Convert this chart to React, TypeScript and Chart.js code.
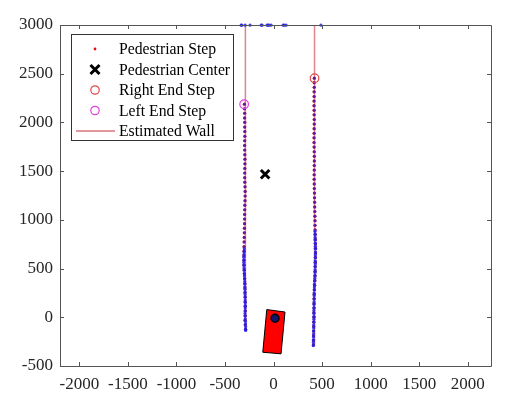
import React, { useEffect, useRef } from "react";
import { Chart, registerables } from "chart.js";

Chart.register(...registerables);

const xTicks = [-2000, -1500, -1000, -500, 0, 500, 1000, 1500, 2000];
const yTicks = [-500, 0, 500, 1000, 1500, 2000, 2500, 3000];

// left foot-step line (red + blue markers)
const leftStepY = [2187, 2140, 2094, 2046, 2001, 1952, 1906, 1858, 1812, 1764, 1717, 1669, 1623, 1575, 1528, 1481, 1433, 1387, 1339, 1292, 1245, 1197, 1151, 1103, 1056, 1009, 961, 915, 867, 820, 773, 725, 679, 631, 584, 537, 489, 443, 395, 348, 301, 253, 207, 159, 112, 65, 17, -30, -77, -124];
const leftStepX = [-300, -299, -298, -298, -297, -297, -296, -296, -297, -298, -297, -296, -295, -295, -296, -297, -297, -296, -294, -293, -293, -294, -296, -297, -298, -298, -299, -300, -301, -302, -303, -304, -304, -305, -305, -304, -302, -300, -298, -296, -295, -294, -293, -293, -292, -291, -292, -294, -292, -289];
// denser blue markers on the lower left part
const leftBlueY = [700, 672, 645, 617, 590, 562, 535, 507, 480, 452, 425, 397, 370, 342, 315, 287, 260, 232, 205, 177, 150, 122, 95, 67, 40, 12, -15, -43, -70, -98, -125, -135];
const leftBlueX = [-302, -303, -305, -306, -306, -307, -306, -305, -303, -301, -300, -298, -297, -296, -295, -294, -294, -293, -292, -292, -291, -291, -292, -293, -294, -293, -291, -289, -288, -287, -287, -288];

// right foot-step line
const rightStepY = [2454, 2408, 2360, 2314, 2266, 2219, 2172, 2124, 2078, 2030, 1983, 1936, 1888, 1842, 1794, 1747, 1699, 1653, 1605, 1558, 1511, 1463, 1417, 1369, 1322, 1275, 1227, 1181, 1133, 1086, 1038, 992, 944, 897, 850, 802, 756, 708, 661, 614, 566, 520, 472, 425, 378, 330, 284, 236, 189, 141, 95, 47, 0, -48, -95, -142, -190, -237, -284];
const rightStepX = [420, 419, 419, 418, 418, 417, 417, 418, 418, 419, 419, 418, 418, 417, 417, 418, 419, 420, 420, 419, 419, 418, 418, 419, 420, 421, 422, 423, 424, 425, 426, 427, 427, 428, 429, 430, 431, 432, 432, 431, 430, 429, 428, 427, 425, 423, 421, 419, 418, 417, 417, 416, 416, 415, 414, 413, 412, 411, 410];
// denser blue markers on the lower right part
const rightBlueY = [880, 850, 820, 790, 760, 730, 700, 670, 640, 610, 580, 550, 520, 490, 460, 430, 400, 370, 340, 310, 280, 250, 220, 190, 160, 130, 100, 70, 40, 10, -20, -50, -80, -110, -140, -170, -200, -230, -260, -290];
const rightBlueX = [427, 428, 429, 430, 431, 432, 433, 433, 432, 431, 430, 431, 430, 429, 428, 427, 425, 423, 421, 420, 419, 418, 418, 417, 417, 416, 416, 415, 415, 416, 415, 414, 413, 413, 412, 412, 411, 411, 410, 410];

// stray steps along the top border
const topStepX = [-334, -328, -293, -242, -128, -118, -67, -57, -46, -26, 98, 110, 129, 488];
const topStepY = [2998, 2998, 2998, 2998, 2998, 2998, 2998, 2998, 2998, 2998, 2998, 2998, 2998, 2998];

const centerPoint = { x: -87, y: 1468 };
const rightEndStep = { x: 422, y: 2454 };
const leftEndStep = { x: -303, y: 2187 };

const leftWallX = [-290, -290];
const leftWallY = [-130, 3000];
const rightWallX = [422, 422];
const rightWallY = [-290, 3000];

const vehicleX = [-70, 118, 77, -111, -70];
const vehicleY = [79, 54, -375, -359, 79];
const sensor = { x: 15, y: -10 };

const legendLabels = ["Pedestrian Step", "Pedestrian Center", "Right End Step", "Left End Step", "Estimated Wall"];

const FONT = "'Liberation Serif', 'Times New Roman', serif";
const AXIS = "#262626";

const zip = (xs: number[], ys: number[]) => xs.map((x, i) => ({ x, y: ys[i] }));

const axesPlugin = {
  id: "matlabAxes",
  afterDatasetsDraw(chart: any) {
    const { ctx, chartArea: a, scales } = chart;
    ctx.save();
    ctx.strokeStyle = "#555555";
    ctx.lineWidth = 1;
    ctx.beginPath();
    ctx.rect(Math.round(a.left) + 0.5, Math.round(a.top) + 0.5, Math.round(a.right - a.left), Math.round(a.bottom - a.top));
    ctx.stroke();
    const tl = 4;
    ctx.beginPath();
    xTicks.forEach((v) => {
      const px = Math.round(scales.x.getPixelForValue(v)) + 0.5;
      ctx.moveTo(px, a.bottom);
      ctx.lineTo(px, a.bottom - tl);
      ctx.moveTo(px, a.top);
      ctx.lineTo(px, a.top + tl);
    });
    yTicks.forEach((v) => {
      const py = Math.round(scales.y.getPixelForValue(v)) + 0.5;
      ctx.moveTo(a.left, py);
      ctx.lineTo(a.left + tl, py);
      ctx.moveTo(a.right, py);
      ctx.lineTo(a.right - tl, py);
    });
    ctx.stroke();

    // legend
    const bx = a.left + 11.5, by = a.top + 9.5, bw = 162, bh = 106;
    ctx.fillStyle = "#ffffff";
    ctx.fillRect(bx, by, bw, bh);
    ctx.strokeStyle = "#333333";
    ctx.strokeRect(bx, by, bw, bh);
    const rows = [49, 69.5, 90, 110.5, 131];
    const sx = 95;
    ctx.font = `15.7px ${FONT}`;
    ctx.textBaseline = "middle";
    ctx.textAlign = "left";
    legendLabels.forEach((lab, i) => {
      const y = rows[i];
      ctx.fillStyle = "#000000";
      ctx.fillText(lab, 119, y + 1);
      if (i === 0) {
        ctx.fillStyle = "#e01010";
        ctx.beginPath();
        ctx.arc(sx, y, 1.4, 0, Math.PI * 2);
        ctx.fill();
      } else if (i === 1) {
        ctx.strokeStyle = "#000000";
        ctx.lineWidth = 3;
        ctx.beginPath();
        ctx.moveTo(sx - 4.5, y - 4.5);
        ctx.lineTo(sx + 4.5, y + 4.5);
        ctx.moveTo(sx + 4.5, y - 4.5);
        ctx.lineTo(sx - 4.5, y + 4.5);
        ctx.stroke();
      } else if (i === 2 || i === 3) {
        ctx.strokeStyle = i === 2 ? "#e04848" : "#e040e0";
        ctx.lineWidth = 1.2;
        ctx.beginPath();
        ctx.arc(sx, y, 4.2, 0, Math.PI * 2);
        ctx.stroke();
      } else {
        ctx.strokeStyle = "rgba(214,90,100,0.85)";
        ctx.lineWidth = 1.5;
        ctx.beginPath();
        ctx.moveTo(76, y);
        ctx.lineTo(115, y);
        ctx.stroke();
      }
    });
    ctx.restore();
  },
};

export default function App() {
  const ref = useRef<HTMLCanvasElement | null>(null);
  useEffect(() => {
    if (!ref.current) return;
    const tickFont = { family: FONT, size: 17 };
    const plain = (v: any) => String(v);
    const chart = new Chart(ref.current, {
      type: "scatter",
      data: {
        datasets: [
          {
            label: "Estimated Wall",
            data: zip(leftWallX, leftWallY),
            showLine: true,
            borderColor: "rgba(214,90,100,0.75)",
            borderWidth: 1.5,
            pointRadius: 0,
            order: 10,
          } as any,
          {
            label: "Estimated Wall R",
            data: zip(rightWallX, rightWallY),
            showLine: true,
            borderColor: "rgba(214,90,100,0.75)",
            borderWidth: 1.5,
            pointRadius: 0,
            order: 10,
          },
          {
            label: "Pedestrian Step",
            data: [...zip(leftStepX, leftStepY), ...zip(rightStepX, rightStepY)],
            pointRadius: 1.6,
            pointBorderWidth: 0,
            backgroundColor: "#e01010",
            order: 8,
          },
          {
            label: "Step Blue",
            data: [
              ...zip(leftStepX, leftStepY),
              ...zip(rightStepX, rightStepY),
            ],
            pointRadius: 1.5,
            pointBorderWidth: 0,
            backgroundColor: "rgba(40,30,230,0.7)",
            order: 7,
          },
          {
            label: "Step Blue Dense",
            data: [...zip(leftBlueX, leftBlueY), ...zip(rightBlueX, rightBlueY), ...zip(topStepX, topStepY)],
            pointRadius: 1.6,
            pointBorderWidth: 0,
            backgroundColor: "rgba(30,30,240,0.85)",
            clip: false,
            order: 7,
          } as any,
          {
            label: "Vehicle",
            data: zip(vehicleX, vehicleY),
            showLine: true,
            fill: "shape",
            backgroundColor: "#ff0000",
            borderColor: "#000000",
            borderWidth: 1,
            pointRadius: 0,
            order: 6,
          } as any,
          {
            label: "Sensor",
            data: [sensor],
            pointRadius: 4,
            backgroundColor: "#141470",
            borderColor: "#000000",
            borderWidth: 1.5,
            order: 5,
          },
          {
            label: "Right End Step",
            data: [rightEndStep],
            pointRadius: 4.3,
            backgroundColor: "rgba(0,0,0,0)",
            borderColor: "#e04848",
            borderWidth: 1.2,
            order: 2,
          },
          {
            label: "Left End Step",
            data: [leftEndStep],
            pointRadius: 4.3,
            backgroundColor: "rgba(0,0,0,0)",
            borderColor: "#e040e0",
            borderWidth: 1.2,
            order: 2,
          },
          {
            label: "Pedestrian Center",
            data: [centerPoint],
            pointStyle: "crossRot",
            pointRadius: 6,
            borderColor: "#000000",
            borderWidth: 3,
            order: 1,
          },
        ],
      },
      options: {
        animation: false,
        responsive: false,
        maintainAspectRatio: false,
        layout: { padding: { top: 25, right: 36, left: 0, bottom: 0 } },
        plugins: { legend: { display: false }, tooltip: { enabled: false } },
        scales: {
          x: {
            type: "linear",
            min: -2200,
            max: 2240,
            grid: { display: false, drawTicks: false },
            border: { display: false },
            ticks: { font: tickFont, color: AXIS, padding: 8, maxRotation: 0, callback: plain },
            afterBuildTicks: (s: any) => {
              s.ticks = xTicks.map((v) => ({ value: v }));
            },
            afterFit: (s: any) => {
              s.height = 30;
            },
          },
          y: {
            type: "linear",
            min: -500,
            max: 3000,
            grid: { display: false, drawTicks: false },
            border: { display: false },
            ticks: { font: tickFont, color: AXIS, padding: 7, callback: plain },
            afterBuildTicks: (s: any) => {
              s.ticks = yTicks.map((v) => ({ value: v }));
            },
            afterFit: (s: any) => {
              s.width = 60;
            },
          },
        },
      } as any,
      plugins: [axesPlugin],
    });
    return () => chart.destroy();
  }, []);
  return (
    <div style={{ position: "fixed", left: 0, top: 0, width: 527, height: 396, background: "#ffffff" }}>
      <canvas ref={ref} width={527} height={396} style={{ display: "block", width: 527, height: 396 }} />
    </div>
  );
}
